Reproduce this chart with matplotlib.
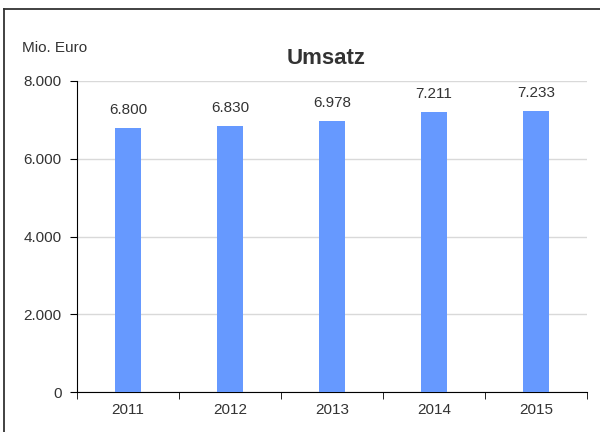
import matplotlib.pyplot as plt
from matplotlib.lines import Line2D
from matplotlib.ticker import FuncFormatter
import numpy as np

plt.rcParams['font.family'] = ['Liberation Sans', 'DejaVu Sans']

years = ['2011', '2012', '2013', '2014', '2015']
umsatz = [6800, 6830, 6978, 7211, 7233]


def de_fmt(v, pos=None):
    return f'{int(round(v)):,}'.replace(',', '.')


fig = plt.figure(figsize=(6, 4.32), dpi=100)
# outer frame: only left and top edges are visible in the reference
fx, fy = 3.5 / 600, 1 - 8.5 / 432
fig.add_artist(Line2D([fx, fx], [0, fy], transform=fig.transFigure, color='#333333', lw=1.3))
fig.add_artist(Line2D([fx, 1], [fy, fy], transform=fig.transFigure, color='#333333', lw=1.3))

ax = fig.add_axes([77 / 600, 1 - 392 / 432, 510 / 600, (392 - 81) / 432])
x = np.arange(len(years))
ax.bar(x, umsatz, width=0.25, color='#6699ff', zorder=3)

for xi, v in zip(x, umsatz):
    ax.annotate(de_fmt(v), (xi, v), xytext=(0, 8), textcoords='offset points',
                ha='center', va='bottom', fontsize=11, color='#333333')

ax.set_xlim(-0.5, len(years) - 0.5)
ax.set_ylim(0, 8000)
ax.set_yticks([0, 2000, 4000, 6000, 8000])
ax.yaxis.set_major_formatter(FuncFormatter(de_fmt))
ax.grid(axis='y', color='#d9d9d9', linewidth=1, zorder=0)

ax.set_xticks(x)
ax.set_xticklabels(years)
ax.set_xticks(np.arange(len(years) + 1) - 0.5, minor=True)
ax.tick_params(axis='x', which='major', length=0, pad=8, labelsize=11, labelcolor='#333333')
ax.tick_params(axis='x', which='minor', length=5, direction='out', color='black')
ax.tick_params(axis='y', length=5, direction='out', labelsize=11, labelcolor='#333333', pad=6)

for s in ['top', 'right']:
    ax.spines[s].set_visible(False)
ax.spines['left'].set_color('black')
ax.spines['bottom'].set_color('black')

fig.text(22 / 600, 1 - 48 / 432, 'Mio. Euro', fontsize=11, color='#333333', va='center')
fig.text(326 / 600, 1 - 59 / 432, 'Umsatz', fontsize=16, fontweight='bold',
         color='#333333', ha='center', va='center')

fig.savefig('out.png', dpi=100)
